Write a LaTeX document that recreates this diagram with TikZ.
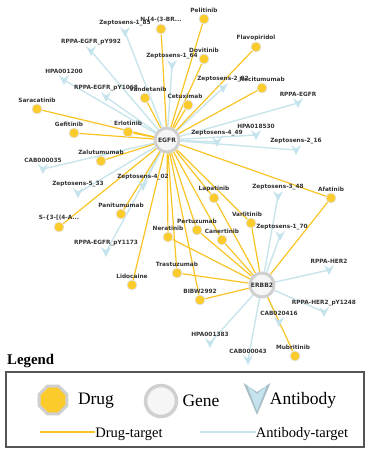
\documentclass[tikz,border=0pt]{standalone}
\usepackage{fontspec}
\setmainfont{Liberation Serif}
\newfontfamily\netfont{DejaVu Sans}
\usepackage{tikz}
\usetikzlibrary{shapes.geometric,backgrounds}
\definecolor{drugy}{HTML}{FBCB2B}
\definecolor{drugring}{HTML}{E4E4E4}
\definecolor{drugline}{HTML}{F8C423}
\definecolor{abfill}{HTML}{C4E3EC}
\definecolor{abedge}{HTML}{A9BFC5}
\definecolor{abline}{HTML}{C8E5EC}
\definecolor{genering}{HTML}{D0D0D0}
\definecolor{genefill}{HTML}{F6F6F6}
\definecolor{labgray}{HTML}{333333}
\definecolor{boxgray}{HTML}{555555}
\tikzstyle{lab}=[font=\netfont\bfseries\fontsize{5.8}{6}\selectfont, text=labgray, inner sep=0.8pt]
\tikzstyle{drug}=[circle, fill=drugy, draw=drugring, line width=0.8pt, minimum size=10pt, inner sep=0pt]
\tikzstyle{gene}=[circle, fill=genefill, draw=genering, line width=3pt, minimum size=24pt, inner sep=0pt, font=\netfont\bfseries\fontsize{6}{6}\selectfont, text=labgray]
\tikzstyle{ab}=[minimum width=10pt, minimum height=10pt, inner sep=0pt, path picture={\fill[abfill] (path picture bounding box.north west) -- (path picture bounding box.south) -- (path picture bounding box.north east) -- ([yshift=-3.5pt]path picture bounding box.north) -- cycle;}]
\tikzstyle{drugtarget}=[draw=drugline, line width=1.2pt]
\tikzstyle{abtarget}=[draw=abline, line width=1.4pt]
\tikzstyle{legtext}=[font=\fontsize{17.5}{18}\selectfont, inner sep=0pt]
\tikzstyle{legsmall}=[font=\fontsize{14.5}{15}\selectfont, inner sep=0pt]

\begin{document}
\begin{tikzpicture}[x=1pt,y=-1pt]
\useasboundingbox (0,0) rectangle (368,450);
\node[gene] (egfr) at (167,140) {EGFR};
\node[gene] (erbb2) at (262,285) {ERBB2};
\node[drug, label={[lab]above:Pelitinib}] (pelitinib) at (204,19) {};
\node[drug, label={[lab]above:{N-[4-(3-BR...}}] (nbr) at (161,29) {};
\node[drug, label={[lab]above:Dovitinib}] (dovitinib) at (204,59) {};
\node[drug, label={[lab]above:Flavopiridol}] (flavopiridol) at (256,47) {};
\node[drug, label={[lab]above:Necitumumab}] (necitumumab) at (262,88) {};
\node[drug, label={[lab,xshift=3pt]above:Vandetanib}] (vandetanib) at (145,98) {};
\node[drug, label={[lab,xshift=-3pt]above:Cetuximab}] (cetuximab) at (188,105) {};
\node[drug, label={[lab]above:Saracatinib}] (saracatinib) at (37,109) {};
\node[drug, label={[lab,xshift=-5pt]above:Gefitinib}] (gefitinib) at (74,133) {};
\node[drug, label={[lab]above:Erlotinib}] (erlotinib) at (128,132) {};
\node[drug, label={[lab]above:Zalutumumab}] (zalutumumab) at (101,161) {};
\node[drug, label={[lab]above:Panitumumab}] (panitumumab) at (121,214) {};
\node[drug, label={[lab]above:{S-\{3-[(4-A...}}] (sthree) at (59,227) {};
\node[drug, label={[lab]above:Lidocaine}] (lidocaine) at (132,285) {};
\node[drug, label={[lab]above:Lapatinib}] (lapatinib) at (214,198) {};
\node[drug, label={[lab]above:Afatinib}] (afatinib) at (331,198) {};
\node[drug, label={[lab,xshift=-4pt]above:Varlitinib}] (varlitinib) at (251,223) {};
\node[drug, label={[lab]above:Pertuzumab}] (pertuzumab) at (197,230) {};
\node[drug, label={[lab]above:Canertinib}] (canertinib) at (222,240) {};
\node[drug, label={[lab]above:Neratinib}] (neratinib) at (168,237) {};
\node[drug, label={[lab]above:Trastuzumab}] (trastuzumab) at (177,273) {};
\node[drug, label={[lab]above:BIBW2992}] (bibw) at (200,300) {};
\node[drug, label={[lab,xshift=-2pt]above:Mubritinib}] (mubritinib) at (295,356) {};
\node[ab, label={[lab]above:Zeptosens-1\_85}] (zep185) at (125,32) {};
\node[ab, label={[lab]above:RPPA-EGFR\_pY992}] (py992) at (91,51) {};
\node[ab, label={[lab]above:HPA001200}] (hpa1200) at (64,80) {};
\node[ab, label={[lab]above:RPPA-EGFR\_pY1068}] (py1068) at (106,97) {};
\node[ab, label={[lab]above:Zeptosens-1\_64}] (zep164) at (172,65) {};
\node[ab, label={[lab]above:Zeptosens-2\_92}] (zep292) at (223,88) {};
\node[ab, label={[lab]above:RPPA-EGFR}] (rppaegfr) at (298,103) {};
\node[ab, label={[lab]above:HPA018530}] (hpa18530) at (256,135) {};
\node[ab, label={[lab]above:Zeptosens-4\_49}] (zep449) at (217,142) {};
\node[ab, label={[lab]above:Zeptosens-2\_16}] (zep216) at (296,150) {};
\node[ab, label={[lab]above:CAB000035}] (cab35) at (43,169) {};
\node[ab, label={[lab]above:Zeptosens-5\_33}] (zep533) at (78,193) {};
\node[ab, label={[lab]above:Zeptosens-4\_02}] (zep402) at (143,186) {};
\node[ab, label={[lab]above:RPPA-EGFR\_pY1173}] (py1173) at (106,252) {};
\node[ab, label={[lab]above:Zeptosens-3\_48}] (zep348) at (278,196) {};
\node[ab, label={[lab,xshift=2pt]above:Zeptosens-1\_70}] (zep170) at (280,236) {};
\node[ab, label={[lab]above:RPPA-HER2}] (rppaher2) at (329,270) {};
\node[ab, label={[lab]above:RPPA-HER2\_pY1248}] (py1248) at (324,312) {};
\node[ab, label={[lab]above:CAB020416}] (cab20416) at (279,322) {};
\node[ab, label={[lab]above:HPA001383}] (hpa1383) at (210,343) {};
\node[ab, label={[lab]above:CAB000043}] (cab43) at (248,360) {};
\begin{scope}[on background layer]
\foreach \a in {zep185,py992,hpa1200,py1068,zep164,zep292,rppaegfr,hpa18530,zep449,zep216,cab35,zep533,zep402,py1173}
  \draw[abtarget] (\a.center) -- (egfr);
\foreach \a in {zep348,zep170,rppaher2,py1248,cab20416,hpa1383,cab43}
  \draw[abtarget] (\a.center) -- (erbb2);
\foreach \d in {pelitinib,nbr,dovitinib,flavopiridol,necitumumab,vandetanib,cetuximab,saracatinib,gefitinib,erlotinib,zalutumumab,panitumumab,sthree,lidocaine,lapatinib,afatinib,varlitinib,pertuzumab,canertinib,neratinib,trastuzumab,bibw}
  \draw[drugtarget] (\d) -- (egfr);
\foreach \d in {lapatinib,afatinib,varlitinib,pertuzumab,canertinib,neratinib,trastuzumab,bibw,mubritinib}
  \draw[drugtarget] (\d) -- (erbb2);
\end{scope}
\node[anchor=west, inner sep=0pt, font=\bfseries\fontsize{14.8}{15}\selectfont] (legendtitle) at (7,361) {Legend};
\node[draw=boxgray, line width=1.2pt, minimum width=358pt, minimum height=75pt] (legendbox) at (185,409.5) {};
\node[regular polygon, regular polygon sides=8, fill=drugy, draw=genering, line width=3pt, minimum size=30pt, inner sep=0pt] (legdrug) at (53,400) {};
\node[legtext] (drugtext) at (96,401) {Drug};
\node[circle, fill=genefill, draw=genering, line width=3.5pt, minimum size=31pt, inner sep=0pt] (leggene) at (161,401) {};
\node[legtext] (genetext) at (201,401) {Gene};
\node[minimum width=27pt, minimum height=32pt, inner sep=0pt, path picture={\fill[abedge] (path picture bounding box.north west) -- (path picture bounding box.south) -- (path picture bounding box.north east) -- ([yshift=-9pt]path picture bounding box.north) -- cycle; \fill[abfill] ([xshift=3.5pt,yshift=-2pt]path picture bounding box.north west) -- ([yshift=4pt]path picture bounding box.south) -- ([xshift=-3.5pt,yshift=-2pt]path picture bounding box.north east) -- ([yshift=-11pt]path picture bounding box.north) -- cycle;}] (legab) at (257,399) {};
\node[legtext] (abtext) at (303,400) {Antibody};
\node[legsmall] (dtlabel) at (129,434) {Drug-target};
\node[legsmall] (atlabel) at (302,434) {Antibody-target};
\coordinate (dtstart) at (40,432);
\coordinate (atstart) at (200,432);
\draw[drugtarget] (dtstart) -- (dtstart -| dtlabel.west);
\draw[abtarget] (atstart) -- (atstart -| atlabel.west);
\end{tikzpicture}
\end{document}
